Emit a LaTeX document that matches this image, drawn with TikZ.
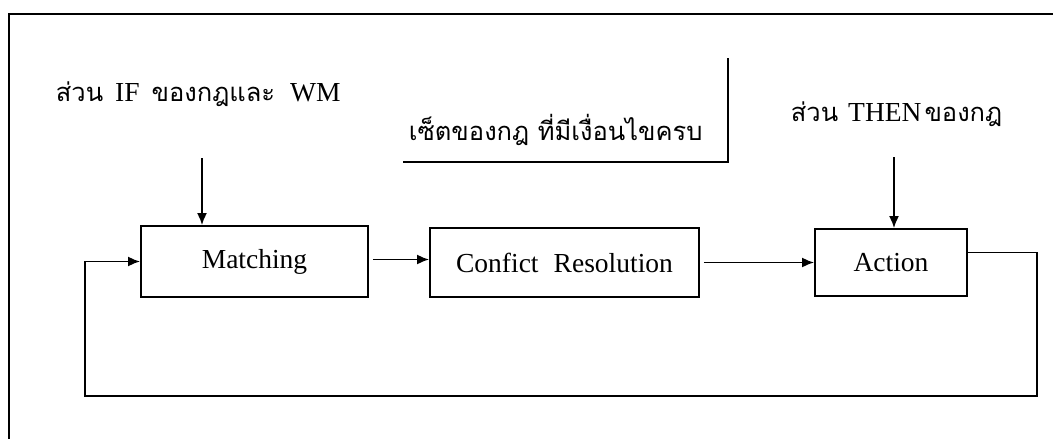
\documentclass[tikz,border=0pt]{standalone}
\usepackage{fontspec}
\setmainfont{Liberation Serif}
\newfontfamily\thaifont[Script=Thai]{Loma}
\usetikzlibrary{arrows.meta}
\newcommand{\latinpart}[1]{{\rmfamily\fontsize{27.5}{30}\selectfont #1}}
\begin{document}
\begin{tikzpicture}[x=1pt,y=-1pt,
  line width=1.8pt,
  procbox/.style={draw, line width=1.8pt, inner sep=0pt, font=\fontsize{27.5}{32}\selectfont},
  flow/.style={-{Latex[length=12pt,width=10pt]}},
  lbl/.style={anchor=base west, inner sep=0pt, font=\thaifont\fontsize{25.5}{30}\selectfont}]
\useasboundingbox (0,0) rectangle (1053,439);
% outer frame (cut off at right and bottom)
\draw[line width=2pt] (1060,14) -- (9,14) -- (9,445);
% boxes
\node[procbox, minimum width=227pt, minimum height=71pt] (m) at (254.5,261.5) {Matching};
\node[procbox, minimum width=269pt, minimum height=69pt] (c) at (564.5,262.5) {Confict\hspace{0.55em}Resolution};
\node[procbox, minimum width=152pt, minimum height=67pt] (a) at (891,262.5) {Action};
% labels
\node[lbl] (l1) at (55,101) {ส่วน\hspace{12pt}\latinpart{IF}\hspace{12pt}ของกฎและ\hspace{15pt}\latinpart{WM}};
\node[lbl] (l2) at (408,140) {เซ็ตของกฎ ที่มีเงื่อนไขครบ};
\node[lbl] (l3) at (790,121) {ส่วน\hspace{10pt}\latinpart{THEN}\hspace{3pt}ของกฎ};
% bracket
\coordinate (b1) at (728,58);
\coordinate (b2) at (728,162);
\coordinate (b3) at (403,162);
\draw (b1) -- (b2) -- (b3);
% top input arrows
\coordinate (t1) at (202,158);
\coordinate (t2) at (894,157);
\draw[flow] (t1) -- (t1 |- m.north);
\draw[flow] (t2) -- (t2 |- a.north);
% main flow
\draw[flow, shorten <=4pt] ([yshift=2pt]m.east) -- ([yshift=2pt]m.east -| c.west);
\draw[flow, shorten <=4pt] (c.east) -- (c.east -| a.west);
% feedback loop
\coordinate (p1) at (1037,396);
\coordinate (p2) at (85,396);
\draw[flow] ([yshift=10pt]a.east) -| (p1) -- (p2) |- (m.west);
\end{tikzpicture}
\end{document}
